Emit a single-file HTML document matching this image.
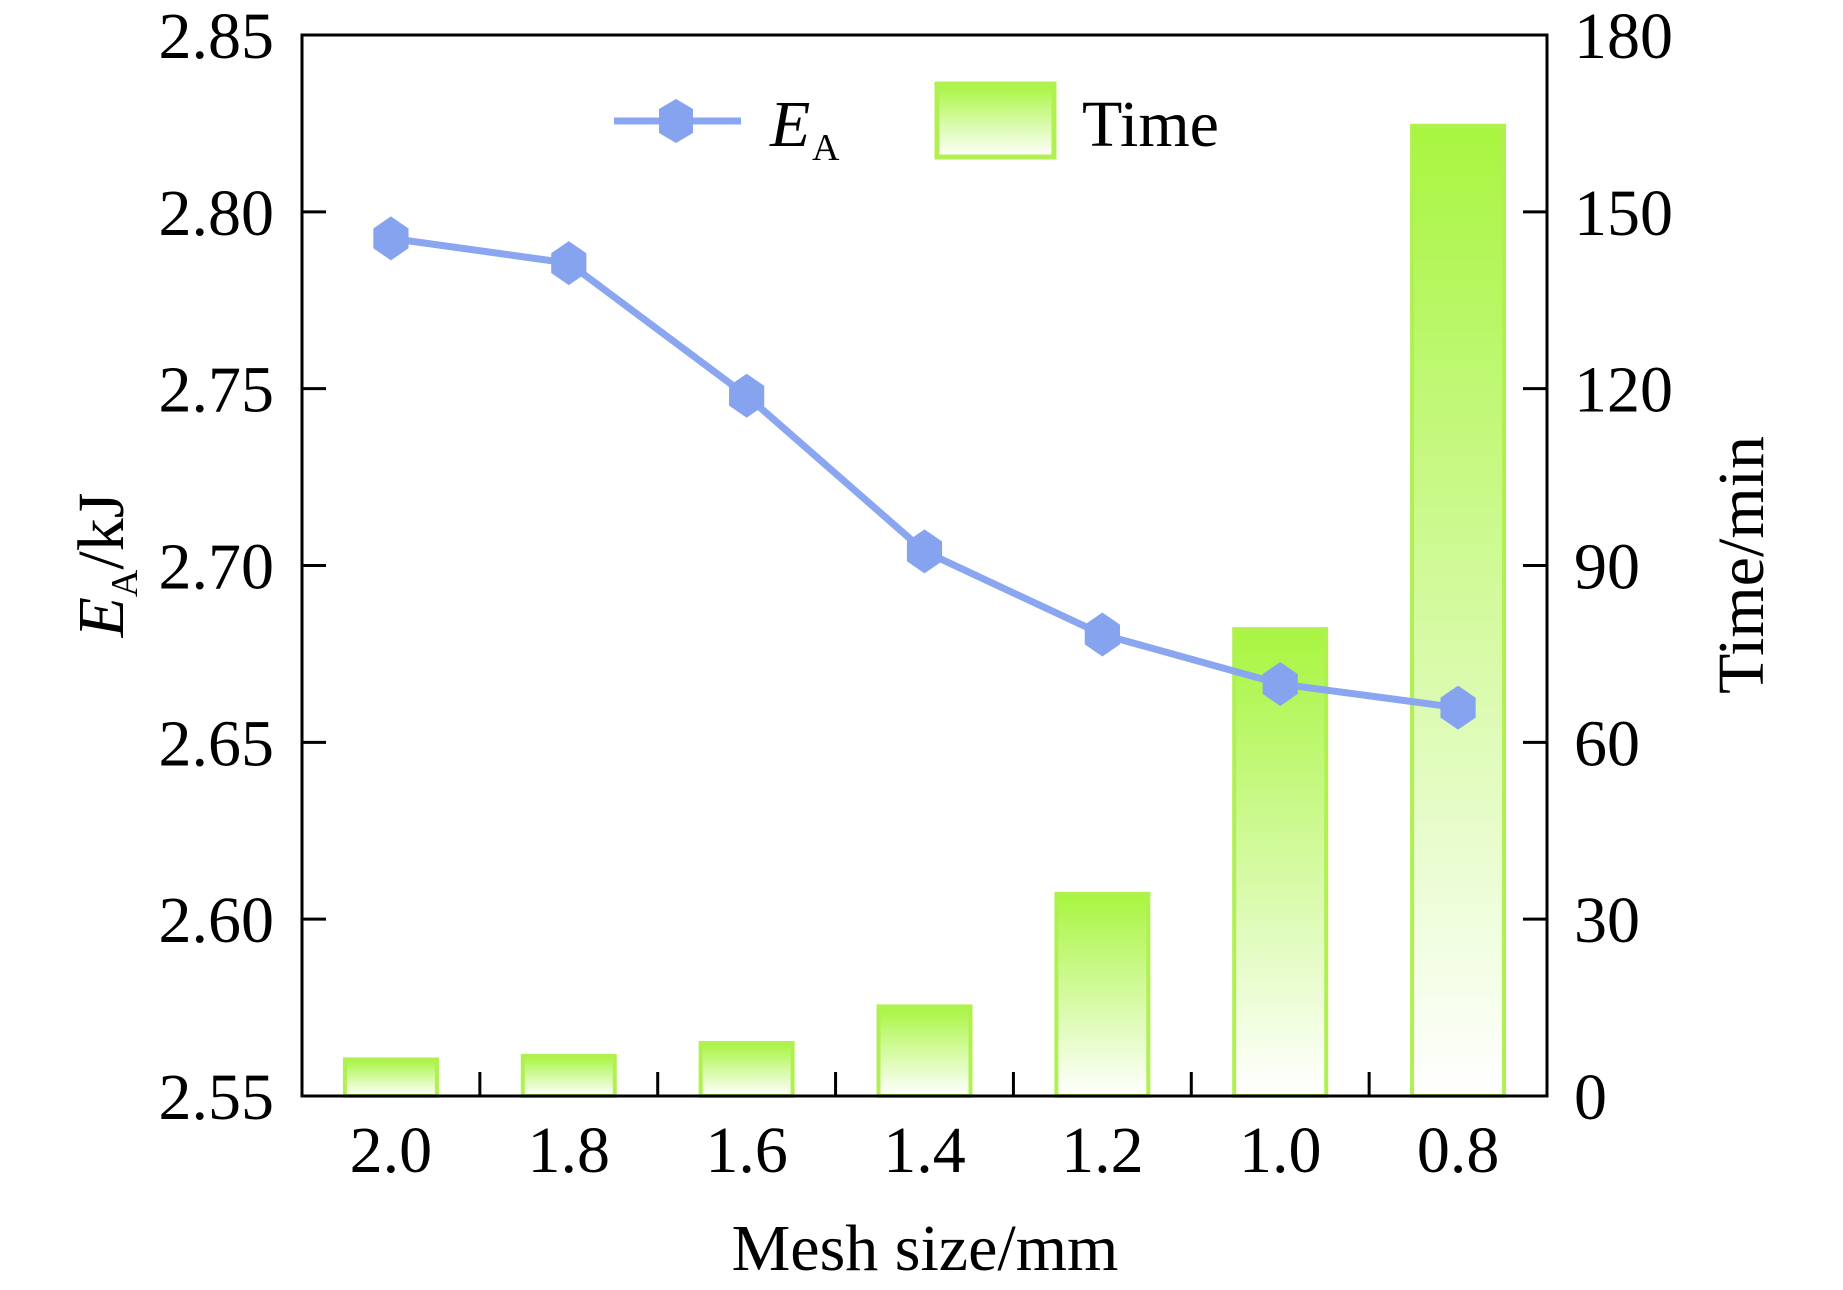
<!DOCTYPE html>
<html><head><meta charset="utf-8"><style>
html,body{margin:0;padding:0;background:#fff;}
svg{display:block;font-family:"Liberation Serif",serif;}
</style></head><body>
<svg id="chart" width="1843" height="1290" viewBox="0 0 1843 1290" xmlns="http://www.w3.org/2000/svg">
<defs>
<linearGradient id="barGrad" x1="0" y1="0" x2="0" y2="1">
<stop offset="0" stop-color="#a8f540"/>
<stop offset="1" stop-color="#ffffff"/>
</linearGradient>
</defs>
<g id="bars"></g>
<g id="line"></g>
<g id="axes"></g>
<g>
<line x1="614" y1="121" x2="741" y2="121" stroke="#8aa6f0" stroke-width="7"/>
<polygon points="676,99 693,109 693,133 676,143 659,133 659,109" fill="#86a3ef"/>
<text x="770" y="146" font-size="66" font-style="italic">E</text>
<text x="812" y="160" font-size="38">A</text>
<rect x="937" y="84" width="117" height="73" fill="url(#barGrad)" stroke="#b0f050" stroke-width="5"/>
<text x="1082" y="146" font-size="66">Time</text>
</g>
<text x="925" y="1270" font-size="66" text-anchor="middle">Mesh size/mm</text>
<g transform="translate(123,565) rotate(-90)">
<text x="0" y="0" font-size="66" text-anchor="middle"><tspan font-style="italic">E</tspan><tspan font-size="38" dy="14">A</tspan><tspan dy="-14">/kJ</tspan></text>
</g>
<text transform="translate(1763,565) rotate(-90)" font-size="66" text-anchor="middle">Time/min</text>
<script>
var categories = ["2.0","1.8","1.6","1.4","1.2","1.0","0.8"];
var eaValues = [2.7925, 2.7855, 2.748, 2.704, 2.6805, 2.6665, 2.6598];
var timeValues = [6.2, 6.8, 9.0, 15.2, 34.3, 79.2, 164.6];
var leftTicks = ["2.55","2.60","2.65","2.70","2.75","2.80","2.85"];
var rightTicks = ["0","30","60","90","120","150","180"];

var NS = "http://www.w3.org/2000/svg";
var L = 302, R = 1547, T = 35, B = 1096;
var band = (R - L) / categories.length;
function xC(i){ return L + (i + 0.5) * band; }
function yL(v){ return B - (v - 2.55) / 0.30 * (B - T); }
function yR(v){ return B - v / 180 * (B - T); }
function mk(tag, attrs, parent){
  var e = document.createElementNS(NS, tag);
  for (var k in attrs) e.setAttribute(k, attrs[k]);
  parent.appendChild(e); return e;
}
var bars = document.getElementById("bars");
var bw = 92;
timeValues.forEach(function(v, i){
  var y = yR(v);
  var r = mk("rect", {x: xC(i) - bw/2, y: y, width: bw, height: B - y, fill: "url(#barGrad)", stroke: "#b0f050", "stroke-width": 4}, bars);
  
  
});
var line = document.getElementById("line");
var pts = eaValues.map(function(v, i){ return xC(i) + "," + yL(v); }).join(" ");
var pl = mk("polyline", {points: pts, fill: "none", stroke: "#8aa6f0", "stroke-width": 7}, line);


eaValues.forEach(function(v, i){
  var cx = xC(i), cy = yL(v), r = 22;
  var p = [[0,-r],[r*0.8,-r*0.45],[r*0.8,r*0.45],[0,r],[-r*0.8,r*0.45],[-r*0.8,-r*0.45]].map(function(q){return (cx+q[0])+","+(cy+q[1]);}).join(" ");
  var m = mk("polygon", {points: p, fill: "#86a3ef"}, line);
  
  
});
var axes = document.getElementById("axes");
var fr = mk("rect", {x: L, y: T, width: R - L, height: B - T, fill: "none", stroke: "#000", "stroke-width": 3}, axes);


leftTicks.forEach(function(t, i){
  var y = yL(parseFloat(t));
  mk("line", {x1: L, y1: y, x2: L + 24, y2: y, stroke: "#000", "stroke-width": 3}, axes);
  var tx = mk("text", {x: 274, y: y + 23, "font-size": 66, "text-anchor": "end"}, axes);
  tx.textContent = t;
  
  
});
rightTicks.forEach(function(t, i){
  var y = yR(parseFloat(t));
  mk("line", {x1: R - 24, y1: y, x2: R, y2: y, stroke: "#000", "stroke-width": 3}, axes);
  var tx = mk("text", {x: 1574, y: y + 23, "font-size": 66}, axes);
  tx.textContent = t;
  
  
});
categories.forEach(function(c, i){
  if (i > 0) mk("line", {x1: L + i*band, y1: B, x2: L + i*band, y2: B - 24, stroke: "#000", "stroke-width": 3}, axes);
  var tx = mk("text", {x: xC(i), y: 1172, "font-size": 66, "text-anchor": "middle"}, axes);
  tx.textContent = c;
  
  
});
</script>
</svg>
</body></html>
